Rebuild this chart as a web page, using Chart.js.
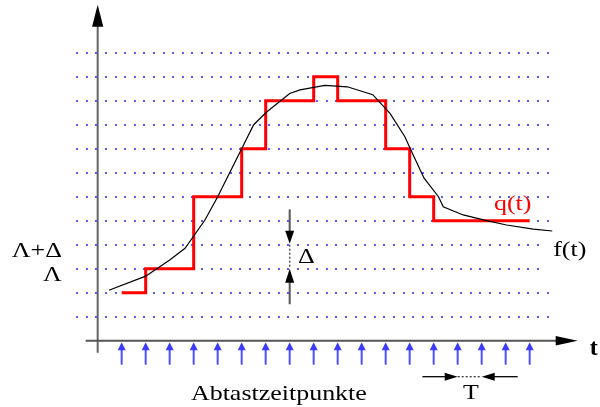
<!DOCTYPE html>
<html><head><meta charset="utf-8">
<script src="https://cdn.jsdelivr.net/npm/chart.js@4/dist/chart.umd.min.js"></script>
<style>html,body{margin:0;padding:0;background:#fff}canvas{display:block}</style>
</head><body>
<canvas id="c" width="600" height="407"></canvas>
<script>
// sampling instants (multiples of T) and quantized values q(t) (multiples of Δ)
const sampleTimes = [1,2,3,4,5,6,7,8,9,10,11,12,13,14,15,16,17,18];
const quantLevels = [2,3,3,6,6,8,10,10,11,10,10,8,6,5,5,5,5,5];
// continuous signal f(t)
const fTimes  = [0.47,2.0,3.0,3.64,4.47,5.0,6.0,6.5,7.04,8.0,8.43,9.47,10.4,11.46,12.18,12.8,13.05,13.6,14.2,14.4,15.23,16.2,17.04,18.15,18.94];
const fValues = [2.1,2.69,3.36,3.85,5.03,6.0,8.0,9.0,9.53,10.3,10.45,10.64,10.58,10.25,9.47,8.5,7.95,6.77,6.0,5.58,5.24,5.0,4.82,4.65,4.57];
// quantization levels (dotted lines)
const gridLevels = [1,2,3,4,5,6,7,8,9,10,11,12];
const levelLabels = ['Λ+Δ','Λ'];
const levelLabelValues = [4,3];

const fData = fTimes.map((t,i)=>({x:t,y:fValues[i]}));
const qData = sampleTimes.map((t,i)=>({x:t,y:quantLevels[i]}));

function arrowHead(ctx, tipX, tipY, dx, dy, len, half, color){
  const bx = tipX - dx*len, by = tipY - dy*len;
  const px = -dy, py = dx;
  ctx.fillStyle = color;
  ctx.beginPath();
  ctx.moveTo(tipX, tipY);
  ctx.lineTo(bx + px*half, by + py*half);
  ctx.lineTo(bx - px*half, by - py*half);
  ctx.closePath();
  ctx.fill();
}
function line(ctx,x1,y1,x2,y2,color,w,dash){
  ctx.save();
  ctx.strokeStyle=color; ctx.lineWidth=w;
  if(dash) ctx.setLineDash(dash);
  ctx.beginPath(); ctx.moveTo(x1,y1); ctx.lineTo(x2,y2); ctx.stroke();
  ctx.restore();
}
function text(ctx, s, x, y, align, color){
  ctx.save();
  ctx.translate(x, y);
  ctx.scale(1.18, 1);
  ctx.textAlign = align;
  ctx.fillStyle = color || '#000';
  ctx.fillText(s, 0, 0);
  ctx.restore();
}

const diagram = {
  id:'diagram',
  beforeDatasetsDraw(chart){
    const ctx = chart.ctx, X = chart.scales.x, Y = chart.scales.y;
    ctx.save();
    // dotted quantization levels
    ctx.fillStyle = '#5c5cff';
    gridLevels.forEach(l=>{
      const y = Y.getPixelForValue(l);
      const end = (l===3||l===4) ? 18.4 : 18.8;
      for(let t=-0.85; t<=end; t+=0.4){
        const x = X.getPixelForValue(t);
        ctx.fillRect(Math.round(x)-1, Math.round(y)-1, 2, 2);
      }
    });
    // y axis
    const x0 = X.getPixelForValue(0), y0 = Y.getPixelForValue(0);
    const yTop = Y.getPixelForValue(14);
    line(ctx, x0, Y.getPixelForValue(-0.5), x0, yTop+20, '#666', 2);
    arrowHead(ctx, x0, yTop, 0, -1, 22, 5.6, '#000');
    // x axis
    const xRight = X.getPixelForValue(20);
    line(ctx, X.getPixelForValue(-0.5), y0, xRight-20, y0, '#555', 2);
    arrowHead(ctx, xRight, y0, 1, 0, 22, 4.8, '#000');
    // sampling arrows
    sampleTimes.forEach(t=>{
      const x = X.getPixelForValue(t);
      const tip = y0+1.5;
      line(ctx, x, tip+7, x, Y.getPixelForValue(-1), '#4f4fff', 2);
      arrowHead(ctx, x, tip, 0, -1, 8, 4, '#3c3cff');
    });
    // Δ marker at t=8 between levels 3 and 4
    const xd = X.getPixelForValue(8);
    const yA = Y.getPixelForValue(4), yB = Y.getPixelForValue(3);
    line(ctx, xd, Y.getPixelForValue(5.47), xd, yA-10, '#555', 2);
    arrowHead(ctx, xd, yA-1, 0, 1, 13, 4.5, '#000');
    line(ctx, xd, yA, xd, yB, '#555', 1.5, [2,2]);
    line(ctx, xd, yB+10, xd, Y.getPixelForValue(1.52), '#555', 2);
    arrowHead(ctx, xd, yB, 0, -1, 14, 4.5, '#000');
    // T marker between t=15 and t=16
    const yT = Y.getPixelForValue(-1.5);
    const xa = X.getPixelForValue(15), xb = X.getPixelForValue(16);
    line(ctx, X.getPixelForValue(13.53), yT, xa-8, yT, '#000', 1.3);
    arrowHead(ctx, xa, yT, 1, 0, 13, 4, '#000');
    line(ctx, xa, yT, xb, yT, '#333', 1.3, [2,2]);
    line(ctx, xb+8, yT, X.getPixelForValue(17.5), yT, '#000', 1.3);
    arrowHead(ctx, xb, yT, -1, 0, 13, 4, '#000');
    ctx.restore();
  },
  afterDraw(chart){
    const ctx = chart.ctx, X = chart.scales.x, Y = chart.scales.y;
    ctx.save();
    ctx.textBaseline = 'alphabetic';
    ctx.font = '22px "Liberation Serif"';
    levelLabels.forEach((s,i)=>{
      text(ctx, s, X.getPixelForValue(-1.49), Y.getPixelForValue(levelLabelValues[i]) + 12.5, 'right');
    });
    text(ctx, 'Δ', X.getPixelForValue(8.35), Y.getPixelForValue(3.23), 'left');
    text(ctx, 'f(t)', X.getPixelForValue(18.98), Y.getPixelForValue(3.53), 'left');
    text(ctx, 'q(t)', X.getPixelForValue(16.51), Y.getPixelForValue(5.45), 'left', '#ff0000');
    text(ctx, 'Abtastzeitpunkte', X.getPixelForValue(7.55), Y.getPixelForValue(-2.46), 'center');
    text(ctx, 'T', X.getPixelForValue(15.55), Y.getPixelForValue(-2.44), 'center');
    ctx.font = 'bold 24px "Liberation Serif"';
    ctx.fillStyle = '#000';
    ctx.textAlign = 'left';
    ctx.fillText('t', X.getPixelForValue(20.5), Y.getPixelForValue(-0.6));
    ctx.restore();
  }
};

new Chart(document.getElementById('c'), {
  type:'line',
  data:{datasets:[
    {label:'f(t)', data:fData, borderColor:'#000', borderWidth:1.2, pointRadius:0, tension:0, fill:false},
    {label:'q(t)', data:qData, borderColor:'#ff0000', borderWidth:3, pointRadius:0, stepped:true, fill:false}
  ]},
  options:{
    responsive:false, animation:false,
    layout:{padding:0},
    plugins:{legend:{display:false}, tooltip:{enabled:false}},
    scales:{
      x:{type:'linear', min:-4.07, max:20.93, display:false},
      y:{type:'linear', min:-2.7625, max:14.196, display:false}
    }
  },
  plugins:[diagram]
});
</script>
</body></html>
